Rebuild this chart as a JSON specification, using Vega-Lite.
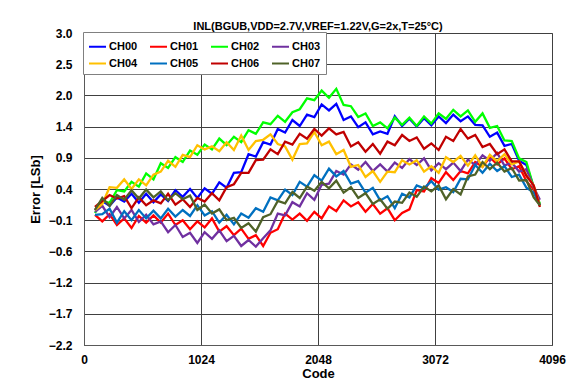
{
"$schema":"https://vega.github.io/schema/vega-lite/v6.json",
"width":468,"height":312,
"autosize":{"type":"none"},
"padding":{"left":84,"top":33,"right":29,"bottom":47},
"background":"white",
"title":{"text":"INL(BGUB,VDD=2.7V,VREF=1.22V,G=2x,T=25°C)","font":"Liberation Sans","fontSize":11,"fontWeight":"bold","color":"black","anchor":"middle","baseline":"alphabetic","offset":3,"dy":17},
"data":{"values":[
{"s":"CH00","x":96,"y":0.05},{"s":"CH00","x":160,"y":0.20},{"s":"CH00","x":224,"y":0.12},{"s":"CH00","x":288,"y":0.26},{"s":"CH00","x":352,"y":0.19},{"s":"CH00","x":416,"y":0.32},{"s":"CH00","x":480,"y":0.17},{"s":"CH00","x":544,"y":0.32},{"s":"CH00","x":608,"y":0.18},{"s":"CH00","x":672,"y":0.31},{"s":"CH00","x":736,"y":0.20},{"s":"CH00","x":800,"y":0.38},{"s":"CH00","x":864,"y":0.27},{"s":"CH00","x":928,"y":0.40},{"s":"CH00","x":992,"y":0.25},{"s":"CH00","x":1056,"y":0.41},{"s":"CH00","x":1120,"y":0.32},{"s":"CH00","x":1184,"y":0.51},{"s":"CH00","x":1248,"y":0.42},{"s":"CH00","x":1312,"y":0.67},{"s":"CH00","x":1376,"y":0.68},{"s":"CH00","x":1440,"y":0.98},{"s":"CH00","x":1504,"y":0.94},{"s":"CH00","x":1568,"y":1.18},{"s":"CH00","x":1632,"y":1.14},{"s":"CH00","x":1696,"y":1.40},{"s":"CH00","x":1760,"y":1.34},{"s":"CH00","x":1824,"y":1.55},{"s":"CH00","x":1888,"y":1.45},{"s":"CH00","x":1952,"y":1.64},{"s":"CH00","x":2016,"y":1.60},{"s":"CH00","x":2080,"y":1.81},{"s":"CH00","x":2144,"y":1.71},{"s":"CH00","x":2208,"y":1.82},{"s":"CH00","x":2272,"y":1.55},{"s":"CH00","x":2336,"y":1.61},{"s":"CH00","x":2400,"y":1.43},{"s":"CH00","x":2464,"y":1.51},{"s":"CH00","x":2528,"y":1.31},{"s":"CH00","x":2592,"y":1.36},{"s":"CH00","x":2656,"y":1.32},{"s":"CH00","x":2720,"y":1.61},{"s":"CH00","x":2784,"y":1.45},{"s":"CH00","x":2848,"y":1.57},{"s":"CH00","x":2912,"y":1.44},{"s":"CH00","x":2976,"y":1.58},{"s":"CH00","x":3040,"y":1.46},{"s":"CH00","x":3104,"y":1.61},{"s":"CH00","x":3168,"y":1.50},{"s":"CH00","x":3232,"y":1.64},{"s":"CH00","x":3296,"y":1.53},{"s":"CH00","x":3360,"y":1.61},{"s":"CH00","x":3424,"y":1.47},{"s":"CH00","x":3488,"y":1.46},{"s":"CH00","x":3552,"y":1.27},{"s":"CH00","x":3616,"y":1.34},{"s":"CH00","x":3680,"y":1.12},{"s":"CH00","x":3744,"y":1.15},{"s":"CH00","x":3808,"y":0.87},{"s":"CH00","x":3872,"y":0.80},{"s":"CH00","x":3936,"y":0.43},{"s":"CH00","x":3990,"y":0.13},
{"s":"CH01","x":96,"y":-0.03},{"s":"CH01","x":160,"y":-0.14},{"s":"CH01","x":224,"y":-0.02},{"s":"CH01","x":288,"y":-0.20},{"s":"CH01","x":352,"y":-0.09},{"s":"CH01","x":416,"y":-0.25},{"s":"CH01","x":480,"y":-0.05},{"s":"CH01","x":544,"y":-0.16},{"s":"CH01","x":608,"y":-0.04},{"s":"CH01","x":672,"y":-0.16},{"s":"CH01","x":736,"y":-0.01},{"s":"CH01","x":800,"y":-0.20},{"s":"CH01","x":864,"y":-0.12},{"s":"CH01","x":928,"y":-0.27},{"s":"CH01","x":992,"y":-0.14},{"s":"CH01","x":1056,"y":-0.24},{"s":"CH01","x":1120,"y":-0.09},{"s":"CH01","x":1184,"y":-0.31},{"s":"CH01","x":1248,"y":-0.22},{"s":"CH01","x":1312,"y":-0.37},{"s":"CH01","x":1376,"y":-0.26},{"s":"CH01","x":1440,"y":-0.43},{"s":"CH01","x":1504,"y":-0.37},{"s":"CH01","x":1568,"y":-0.55},{"s":"CH01","x":1632,"y":-0.33},{"s":"CH01","x":1696,"y":-0.27},{"s":"CH01","x":1760,"y":-0.01},{"s":"CH01","x":1824,"y":-0.11},{"s":"CH01","x":1888,"y":-0.01},{"s":"CH01","x":1952,"y":-0.13},{"s":"CH01","x":2016,"y":0.02},{"s":"CH01","x":2080,"y":-0.09},{"s":"CH01","x":2144,"y":0.11},{"s":"CH01","x":2208,"y":0.03},{"s":"CH01","x":2272,"y":0.21},{"s":"CH01","x":2336,"y":0.11},{"s":"CH01","x":2400,"y":0.18},{"s":"CH01","x":2464,"y":0.02},{"s":"CH01","x":2528,"y":0.15},{"s":"CH01","x":2592,"y":-0.01},{"s":"CH01","x":2656,"y":0.08},{"s":"CH01","x":2720,"y":-0.12},{"s":"CH01","x":2784,"y":0.00},{"s":"CH01","x":2848,"y":0.06},{"s":"CH01","x":2912,"y":0.38},{"s":"CH01","x":2976,"y":0.36},{"s":"CH01","x":3040,"y":0.58},{"s":"CH01","x":3104,"y":0.50},{"s":"CH01","x":3168,"y":0.68},{"s":"CH01","x":3232,"y":0.55},{"s":"CH01","x":3296,"y":0.70},{"s":"CH01","x":3360,"y":0.66},{"s":"CH01","x":3424,"y":0.85},{"s":"CH01","x":3488,"y":0.77},{"s":"CH01","x":3552,"y":0.93},{"s":"CH01","x":3616,"y":0.81},{"s":"CH01","x":3680,"y":0.91},{"s":"CH01","x":3744,"y":0.73},{"s":"CH01","x":3808,"y":0.78},{"s":"CH01","x":3872,"y":0.53},{"s":"CH01","x":3936,"y":0.39},{"s":"CH01","x":3990,"y":0.13},
{"s":"CH02","x":96,"y":0.00},{"s":"CH02","x":160,"y":0.20},{"s":"CH02","x":224,"y":0.17},{"s":"CH02","x":288,"y":0.38},{"s":"CH02","x":352,"y":0.36},{"s":"CH02","x":416,"y":0.52},{"s":"CH02","x":480,"y":0.44},{"s":"CH02","x":544,"y":0.66},{"s":"CH02","x":608,"y":0.56},{"s":"CH02","x":672,"y":0.83},{"s":"CH02","x":736,"y":0.75},{"s":"CH02","x":800,"y":0.93},{"s":"CH02","x":864,"y":0.85},{"s":"CH02","x":928,"y":1.04},{"s":"CH02","x":992,"y":0.97},{"s":"CH02","x":1056,"y":1.14},{"s":"CH02","x":1120,"y":1.06},{"s":"CH02","x":1184,"y":1.24},{"s":"CH02","x":1248,"y":1.13},{"s":"CH02","x":1312,"y":1.27},{"s":"CH02","x":1376,"y":1.18},{"s":"CH02","x":1440,"y":1.38},{"s":"CH02","x":1504,"y":1.32},{"s":"CH02","x":1568,"y":1.51},{"s":"CH02","x":1632,"y":1.48},{"s":"CH02","x":1696,"y":1.62},{"s":"CH02","x":1760,"y":1.52},{"s":"CH02","x":1824,"y":1.68},{"s":"CH02","x":1888,"y":1.73},{"s":"CH02","x":1952,"y":1.91},{"s":"CH02","x":2016,"y":1.88},{"s":"CH02","x":2080,"y":2.04},{"s":"CH02","x":2144,"y":1.92},{"s":"CH02","x":2208,"y":2.07},{"s":"CH02","x":2272,"y":1.80},{"s":"CH02","x":2336,"y":1.78},{"s":"CH02","x":2400,"y":1.60},{"s":"CH02","x":2464,"y":1.66},{"s":"CH02","x":2528,"y":1.45},{"s":"CH02","x":2592,"y":1.51},{"s":"CH02","x":2656,"y":1.41},{"s":"CH02","x":2720,"y":1.59},{"s":"CH02","x":2784,"y":1.47},{"s":"CH02","x":2848,"y":1.59},{"s":"CH02","x":2912,"y":1.45},{"s":"CH02","x":2976,"y":1.61},{"s":"CH02","x":3040,"y":1.49},{"s":"CH02","x":3104,"y":1.66},{"s":"CH02","x":3168,"y":1.57},{"s":"CH02","x":3232,"y":1.72},{"s":"CH02","x":3296,"y":1.61},{"s":"CH02","x":3360,"y":1.71},{"s":"CH02","x":3424,"y":1.52},{"s":"CH02","x":3488,"y":1.66},{"s":"CH02","x":3552,"y":1.42},{"s":"CH02","x":3616,"y":1.45},{"s":"CH02","x":3680,"y":1.21},{"s":"CH02","x":3744,"y":1.20},{"s":"CH02","x":3808,"y":0.91},{"s":"CH02","x":3872,"y":0.85},{"s":"CH02","x":3936,"y":0.43},{"s":"CH02","x":3990,"y":0.15},
{"s":"CH03","x":96,"y":0.02},{"s":"CH03","x":160,"y":0.12},{"s":"CH03","x":224,"y":-0.07},{"s":"CH03","x":288,"y":0.10},{"s":"CH03","x":352,"y":-0.09},{"s":"CH03","x":416,"y":0.05},{"s":"CH03","x":480,"y":-0.15},{"s":"CH03","x":544,"y":-0.03},{"s":"CH03","x":608,"y":-0.19},{"s":"CH03","x":672,"y":-0.14},{"s":"CH03","x":736,"y":-0.32},{"s":"CH03","x":800,"y":-0.20},{"s":"CH03","x":864,"y":-0.40},{"s":"CH03","x":928,"y":-0.33},{"s":"CH03","x":992,"y":-0.50},{"s":"CH03","x":1056,"y":-0.32},{"s":"CH03","x":1120,"y":-0.43},{"s":"CH03","x":1184,"y":-0.29},{"s":"CH03","x":1248,"y":-0.47},{"s":"CH03","x":1312,"y":-0.38},{"s":"CH03","x":1376,"y":-0.55},{"s":"CH03","x":1440,"y":-0.45},{"s":"CH03","x":1504,"y":-0.56},{"s":"CH03","x":1568,"y":-0.42},{"s":"CH03","x":1632,"y":-0.29},{"s":"CH03","x":1696,"y":-0.01},{"s":"CH03","x":1760,"y":-0.04},{"s":"CH03","x":1824,"y":0.18},{"s":"CH03","x":1888,"y":0.11},{"s":"CH03","x":1952,"y":0.33},{"s":"CH03","x":2016,"y":0.22},{"s":"CH03","x":2080,"y":0.47},{"s":"CH03","x":2144,"y":0.49},{"s":"CH03","x":2208,"y":0.70},{"s":"CH03","x":2272,"y":0.64},{"s":"CH03","x":2336,"y":0.81},{"s":"CH03","x":2400,"y":0.72},{"s":"CH03","x":2464,"y":0.85},{"s":"CH03","x":2528,"y":0.70},{"s":"CH03","x":2592,"y":0.81},{"s":"CH03","x":2656,"y":0.69},{"s":"CH03","x":2720,"y":0.84},{"s":"CH03","x":2784,"y":0.75},{"s":"CH03","x":2848,"y":0.90},{"s":"CH03","x":2912,"y":0.80},{"s":"CH03","x":2976,"y":0.91},{"s":"CH03","x":3040,"y":0.71},{"s":"CH03","x":3104,"y":0.83},{"s":"CH03","x":3168,"y":0.73},{"s":"CH03","x":3232,"y":0.84},{"s":"CH03","x":3296,"y":0.70},{"s":"CH03","x":3360,"y":0.89},{"s":"CH03","x":3424,"y":0.80},{"s":"CH03","x":3488,"y":0.96},{"s":"CH03","x":3552,"y":0.87},{"s":"CH03","x":3616,"y":1.00},{"s":"CH03","x":3680,"y":0.79},{"s":"CH03","x":3744,"y":0.84},{"s":"CH03","x":3808,"y":0.69},{"s":"CH03","x":3872,"y":0.73},{"s":"CH03","x":3936,"y":0.43},{"s":"CH03","x":3990,"y":0.22},
{"s":"CH04","x":96,"y":0.05},{"s":"CH04","x":160,"y":0.15},{"s":"CH04","x":224,"y":0.43},{"s":"CH04","x":288,"y":0.42},{"s":"CH04","x":352,"y":0.56},{"s":"CH04","x":416,"y":0.40},{"s":"CH04","x":480,"y":0.56},{"s":"CH04","x":544,"y":0.46},{"s":"CH04","x":608,"y":0.64},{"s":"CH04","x":672,"y":0.69},{"s":"CH04","x":736,"y":0.87},{"s":"CH04","x":800,"y":0.77},{"s":"CH04","x":864,"y":0.97},{"s":"CH04","x":928,"y":0.93},{"s":"CH04","x":992,"y":1.13},{"s":"CH04","x":1056,"y":1.06},{"s":"CH04","x":1120,"y":1.11},{"s":"CH04","x":1184,"y":1.03},{"s":"CH04","x":1248,"y":1.18},{"s":"CH04","x":1312,"y":1.05},{"s":"CH04","x":1376,"y":1.29},{"s":"CH04","x":1440,"y":1.05},{"s":"CH04","x":1504,"y":1.20},{"s":"CH04","x":1568,"y":1.22},{"s":"CH04","x":1632,"y":1.31},{"s":"CH04","x":1696,"y":1.15},{"s":"CH04","x":1760,"y":1.11},{"s":"CH04","x":1824,"y":0.89},{"s":"CH04","x":1888,"y":1.15},{"s":"CH04","x":1952,"y":1.16},{"s":"CH04","x":2016,"y":1.35},{"s":"CH04","x":2080,"y":1.13},{"s":"CH04","x":2144,"y":1.19},{"s":"CH04","x":2208,"y":0.98},{"s":"CH04","x":2272,"y":1.05},{"s":"CH04","x":2336,"y":0.77},{"s":"CH04","x":2400,"y":0.80},{"s":"CH04","x":2464,"y":0.60},{"s":"CH04","x":2528,"y":0.70},{"s":"CH04","x":2592,"y":0.52},{"s":"CH04","x":2656,"y":0.69},{"s":"CH04","x":2720,"y":0.68},{"s":"CH04","x":2784,"y":0.88},{"s":"CH04","x":2848,"y":0.81},{"s":"CH04","x":2912,"y":0.88},{"s":"CH04","x":2976,"y":0.69},{"s":"CH04","x":3040,"y":0.78},{"s":"CH04","x":3104,"y":0.67},{"s":"CH04","x":3168,"y":0.93},{"s":"CH04","x":3232,"y":0.85},{"s":"CH04","x":3296,"y":0.95},{"s":"CH04","x":3360,"y":0.79},{"s":"CH04","x":3424,"y":0.96},{"s":"CH04","x":3488,"y":0.77},{"s":"CH04","x":3552,"y":0.97},{"s":"CH04","x":3616,"y":0.86},{"s":"CH04","x":3680,"y":0.98},{"s":"CH04","x":3744,"y":0.81},{"s":"CH04","x":3808,"y":0.86},{"s":"CH04","x":3872,"y":0.63},{"s":"CH04","x":3936,"y":0.46},{"s":"CH04","x":3990,"y":0.12},
{"s":"CH05","x":96,"y":-0.03},{"s":"CH05","x":160,"y":-0.02},{"s":"CH05","x":224,"y":0.07},{"s":"CH05","x":288,"y":-0.16},{"s":"CH05","x":352,"y":0.03},{"s":"CH05","x":416,"y":-0.12},{"s":"CH05","x":480,"y":0.05},{"s":"CH05","x":544,"y":-0.09},{"s":"CH05","x":608,"y":0.04},{"s":"CH05","x":672,"y":-0.09},{"s":"CH05","x":736,"y":0.07},{"s":"CH05","x":800,"y":-0.06},{"s":"CH05","x":864,"y":0.05},{"s":"CH05","x":928,"y":-0.05},{"s":"CH05","x":992,"y":0.13},{"s":"CH05","x":1056,"y":-0.04},{"s":"CH05","x":1120,"y":0.03},{"s":"CH05","x":1184,"y":-0.16},{"s":"CH05","x":1248,"y":-0.03},{"s":"CH05","x":1312,"y":-0.19},{"s":"CH05","x":1376,"y":-0.01},{"s":"CH05","x":1440,"y":-0.08},{"s":"CH05","x":1504,"y":0.08},{"s":"CH05","x":1568,"y":0.02},{"s":"CH05","x":1632,"y":0.26},{"s":"CH05","x":1696,"y":0.21},{"s":"CH05","x":1760,"y":0.39},{"s":"CH05","x":1824,"y":0.30},{"s":"CH05","x":1888,"y":0.52},{"s":"CH05","x":1952,"y":0.44},{"s":"CH05","x":2016,"y":0.63},{"s":"CH05","x":2080,"y":0.54},{"s":"CH05","x":2144,"y":0.74},{"s":"CH05","x":2208,"y":0.61},{"s":"CH05","x":2272,"y":0.70},{"s":"CH05","x":2336,"y":0.49},{"s":"CH05","x":2400,"y":0.53},{"s":"CH05","x":2464,"y":0.34},{"s":"CH05","x":2528,"y":0.42},{"s":"CH05","x":2592,"y":0.21},{"s":"CH05","x":2656,"y":0.28},{"s":"CH05","x":2720,"y":0.08},{"s":"CH05","x":2784,"y":0.32},{"s":"CH05","x":2848,"y":0.26},{"s":"CH05","x":2912,"y":0.46},{"s":"CH05","x":2976,"y":0.41},{"s":"CH05","x":3040,"y":0.53},{"s":"CH05","x":3104,"y":0.39},{"s":"CH05","x":3168,"y":0.43},{"s":"CH05","x":3232,"y":0.35},{"s":"CH05","x":3296,"y":0.57},{"s":"CH05","x":3360,"y":0.56},{"s":"CH05","x":3424,"y":0.80},{"s":"CH05","x":3488,"y":0.67},{"s":"CH05","x":3552,"y":0.82},{"s":"CH05","x":3616,"y":0.70},{"s":"CH05","x":3680,"y":0.78},{"s":"CH05","x":3744,"y":0.60},{"s":"CH05","x":3808,"y":0.64},{"s":"CH05","x":3872,"y":0.42},{"s":"CH05","x":3936,"y":0.34},{"s":"CH05","x":3990,"y":0.13},
{"s":"CH06","x":96,"y":0.10},{"s":"CH06","x":160,"y":0.20},{"s":"CH06","x":224,"y":0.30},{"s":"CH06","x":288,"y":0.24},{"s":"CH06","x":352,"y":0.28},{"s":"CH06","x":416,"y":0.08},{"s":"CH06","x":480,"y":0.26},{"s":"CH06","x":544,"y":0.13},{"s":"CH06","x":608,"y":0.21},{"s":"CH06","x":672,"y":0.16},{"s":"CH06","x":736,"y":0.32},{"s":"CH06","x":800,"y":0.14},{"s":"CH06","x":864,"y":0.23},{"s":"CH06","x":928,"y":0.10},{"s":"CH06","x":992,"y":0.25},{"s":"CH06","x":1056,"y":0.19},{"s":"CH06","x":1120,"y":0.33},{"s":"CH06","x":1184,"y":0.21},{"s":"CH06","x":1248,"y":0.43},{"s":"CH06","x":1312,"y":0.48},{"s":"CH06","x":1376,"y":0.67},{"s":"CH06","x":1440,"y":0.67},{"s":"CH06","x":1504,"y":0.88},{"s":"CH06","x":1568,"y":0.89},{"s":"CH06","x":1632,"y":1.06},{"s":"CH06","x":1696,"y":0.98},{"s":"CH06","x":1760,"y":1.19},{"s":"CH06","x":1824,"y":1.14},{"s":"CH06","x":1888,"y":1.32},{"s":"CH06","x":1952,"y":1.24},{"s":"CH06","x":2016,"y":1.40},{"s":"CH06","x":2080,"y":1.29},{"s":"CH06","x":2144,"y":1.41},{"s":"CH06","x":2208,"y":1.31},{"s":"CH06","x":2272,"y":1.35},{"s":"CH06","x":2336,"y":1.11},{"s":"CH06","x":2400,"y":1.18},{"s":"CH06","x":2464,"y":1.02},{"s":"CH06","x":2528,"y":1.15},{"s":"CH06","x":2592,"y":0.99},{"s":"CH06","x":2656,"y":1.19},{"s":"CH06","x":2720,"y":1.13},{"s":"CH06","x":2784,"y":1.30},{"s":"CH06","x":2848,"y":1.20},{"s":"CH06","x":2912,"y":1.26},{"s":"CH06","x":2976,"y":1.07},{"s":"CH06","x":3040,"y":1.16},{"s":"CH06","x":3104,"y":1.05},{"s":"CH06","x":3168,"y":1.27},{"s":"CH06","x":3232,"y":1.20},{"s":"CH06","x":3296,"y":1.40},{"s":"CH06","x":3360,"y":1.24},{"s":"CH06","x":3424,"y":1.30},{"s":"CH06","x":3488,"y":1.10},{"s":"CH06","x":3552,"y":1.15},{"s":"CH06","x":3616,"y":0.98},{"s":"CH06","x":3680,"y":1.06},{"s":"CH06","x":3744,"y":0.86},{"s":"CH06","x":3808,"y":0.86},{"s":"CH06","x":3872,"y":0.62},{"s":"CH06","x":3936,"y":0.46},{"s":"CH06","x":3990,"y":0.10},
{"s":"CH07","x":96,"y":0.05},{"s":"CH07","x":160,"y":0.25},{"s":"CH07","x":224,"y":0.12},{"s":"CH07","x":288,"y":0.30},{"s":"CH07","x":352,"y":0.22},{"s":"CH07","x":416,"y":0.38},{"s":"CH07","x":480,"y":0.24},{"s":"CH07","x":544,"y":0.39},{"s":"CH07","x":608,"y":0.26},{"s":"CH07","x":672,"y":0.36},{"s":"CH07","x":736,"y":0.21},{"s":"CH07","x":800,"y":0.33},{"s":"CH07","x":864,"y":0.23},{"s":"CH07","x":928,"y":0.29},{"s":"CH07","x":992,"y":0.05},{"s":"CH07","x":1056,"y":0.14},{"s":"CH07","x":1120,"y":-0.01},{"s":"CH07","x":1184,"y":0.06},{"s":"CH07","x":1248,"y":-0.12},{"s":"CH07","x":1312,"y":-0.08},{"s":"CH07","x":1376,"y":-0.25},{"s":"CH07","x":1440,"y":-0.17},{"s":"CH07","x":1504,"y":-0.31},{"s":"CH07","x":1568,"y":-0.07},{"s":"CH07","x":1632,"y":-0.02},{"s":"CH07","x":1696,"y":0.20},{"s":"CH07","x":1760,"y":0.16},{"s":"CH07","x":1824,"y":0.35},{"s":"CH07","x":1888,"y":0.25},{"s":"CH07","x":1952,"y":0.44},{"s":"CH07","x":2016,"y":0.37},{"s":"CH07","x":2080,"y":0.52},{"s":"CH07","x":2144,"y":0.41},{"s":"CH07","x":2208,"y":0.54},{"s":"CH07","x":2272,"y":0.34},{"s":"CH07","x":2336,"y":0.43},{"s":"CH07","x":2400,"y":0.25},{"s":"CH07","x":2464,"y":0.33},{"s":"CH07","x":2528,"y":0.15},{"s":"CH07","x":2592,"y":0.23},{"s":"CH07","x":2656,"y":0.07},{"s":"CH07","x":2720,"y":0.19},{"s":"CH07","x":2784,"y":0.17},{"s":"CH07","x":2848,"y":0.34},{"s":"CH07","x":2912,"y":0.27},{"s":"CH07","x":2976,"y":0.44},{"s":"CH07","x":3040,"y":0.36},{"s":"CH07","x":3104,"y":0.46},{"s":"CH07","x":3168,"y":0.23},{"s":"CH07","x":3232,"y":0.40},{"s":"CH07","x":3296,"y":0.31},{"s":"CH07","x":3360,"y":0.61},{"s":"CH07","x":3424,"y":0.64},{"s":"CH07","x":3488,"y":0.85},{"s":"CH07","x":3552,"y":0.73},{"s":"CH07","x":3616,"y":0.84},{"s":"CH07","x":3680,"y":0.69},{"s":"CH07","x":3744,"y":0.75},{"s":"CH07","x":3808,"y":0.54},{"s":"CH07","x":3872,"y":0.55},{"s":"CH07","x":3936,"y":0.26},{"s":"CH07","x":3990,"y":0.13}
]},
"mark":{"type":"line","strokeWidth":2.3,"clip":true},
"encoding":{
"x":{"field":"x","type":"quantitative","scale":{"domain":[0,4096],"nice":false,"zero":false},
"axis":{"values":[0,1024,2048,3072,4096],"format":"d","title":"Code","labelPadding":9,"titlePadding":2,"labelFlush":false,"labelOverlap":false,"labelBound":false}},
"y":{"field":"y","type":"quantitative","scale":{"domain":[-2.2,3.0],"nice":false,"zero":false},
"axis":{"values":[-2.2,-1.68,-1.16,-0.64,-0.12,0.4,0.92,1.44,1.96,2.48,3.0],"format":".1f","title":"Error [LSb]","labelPadding":12,"titlePadding":6,"labelFlush":false,"labelOverlap":false}},
"color":{"field":"s","type":"nominal",
"scale":{"domain":["CH00","CH01","CH02","CH03","CH04","CH05","CH06","CH07"],"range":["#0000FF","#FF0000","#00FF00","#7030A0","#FFC000","#0070C0","#C00000","#4F6228"]},
"legend":{"orient":"none","legendX":-1,"legendY":-1,"direction":"horizontal","columns":4,"title":null,"symbolType":"stroke","symbolSize":289,"symbolStrokeWidth":2,"labelFont":"Liberation Sans","labelFontSize":11,"labelFontWeight":"bold","labelColor":"black","fillColor":"white","strokeColor":"#808080","padding":5,"rowPadding":2,"columnPadding":8,"labelOffset":2}}
},
"config":{
"view":{"stroke":"#808080","strokeWidth":1},
"axis":{"grid":true,"gridColor":"#404040","gridWidth":1,"tickSize":0,"domainColor":"#595959","labelFont":"Liberation Sans","labelFontSize":12,"labelFontWeight":"bold","labelColor":"black","titleFont":"Liberation Sans","titleFontSize":13,"titleFontWeight":"bold","titleColor":"black"}
}
}
